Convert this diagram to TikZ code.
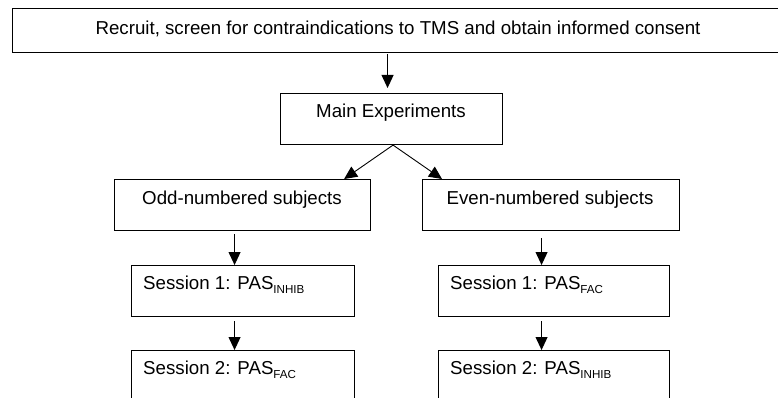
\documentclass[tikz,border=0pt]{standalone}
\usepackage{fontspec}
\setmainfont{Liberation Sans}
\usetikzlibrary{arrows.meta,calc}
\newcommand{\mysubtxt}[1]{\raisebox{-4pt}{\fontsize{11.6}{12}\selectfont #1}}
\begin{document}
\begin{tikzpicture}[x=1pt,y=-1pt,
  box/.style={draw=black, line width=1.1pt, inner sep=0pt, anchor=north west},
  lbl/.style={inner sep=0pt, font=\fontsize{18.7}{20}\selectfont},
  arr/.style={line width=0.9pt, -{Triangle[length=13pt,width=12pt]}},
]
\useasboundingbox (0,0) rectangle (778,398);
\fill[white] (0,0) rectangle (778,398);
\clip (0,0) rectangle (778,398);

% boxes
\node[box, minimum width=772pt, minimum height=44pt] (top) at (12,8) {};
\node[box, minimum width=222pt, minimum height=51pt] (main) at (280,93) {};
\node[box, minimum width=256pt, minimum height=51pt] (odd) at (114,179) {};
\node[box, minimum width=257pt, minimum height=51pt] (even) at (421.5,179) {};
\node[box, minimum width=223pt, minimum height=51pt] (s1l) at (131,265) {};
\node[box, minimum width=231pt, minimum height=51pt] (s1r) at (438,265) {};
\node[box, minimum width=223pt, minimum height=70pt] (s2l) at (131,350) {};
\node[box, minimum width=231pt, minimum height=70pt] (s2r) at (438,350) {};

% texts
\node[lbl, anchor=base] (toptext) at (398,35) {Recruit, screen for contraindications to TMS and obtain informed consent};
\node[lbl, anchor=base] (maintext) at (391,118) {Main Experiments};
\node[lbl, anchor=base] (oddtext) at (242,204) {Odd-numbered subjects};
\node[lbl, anchor=base] (eventext) at (550,204) {Even-numbered subjects};
\node[lbl, anchor=base west] (s1ltext) at (143,289) {Session 1: PAS\mysubtxt{INHIB}};
\node[lbl, anchor=base west] (s1rtext) at (450,289) {Session 1: PAS\mysubtxt{FAC}};
\node[lbl, anchor=base west] (s2ltext) at (143,374) {Session 2: PAS\mysubtxt{FAC}};
\node[lbl, anchor=base west] (s2rtext) at (450,374) {Session 2: PAS\mysubtxt{INHIB}};

% connectors
\draw[arr] ($(top.south)+(-11,1)$) -- ($(main.north)+(-4,-5)$);
\draw[arr] ($(main.south)+(1.5,0)$) -- ($(odd.north east)+(-27,0)$);
\draw[arr] ($(main.south)+(1.5,0)$) -- ($(even.north west)+(20.5,0)$);
\draw[arr] ($(odd.south)+(-8,3)$) -- ($(s1l.north)+(-8.5,0)$);
\draw[arr] ($(even.south)+(-9,7)$) -- ($(s1r.north)+(-12.5,0)$);
\draw[arr] ($(s1l.south)+(-8.5,4)$) -- ($(s2l.north)+(-8.5,0)$);
\draw[arr] ($(s1r.south)+(-12.5,4)$) -- ($(s2r.north)+(-12.5,0)$);
\end{tikzpicture}
\end{document}
